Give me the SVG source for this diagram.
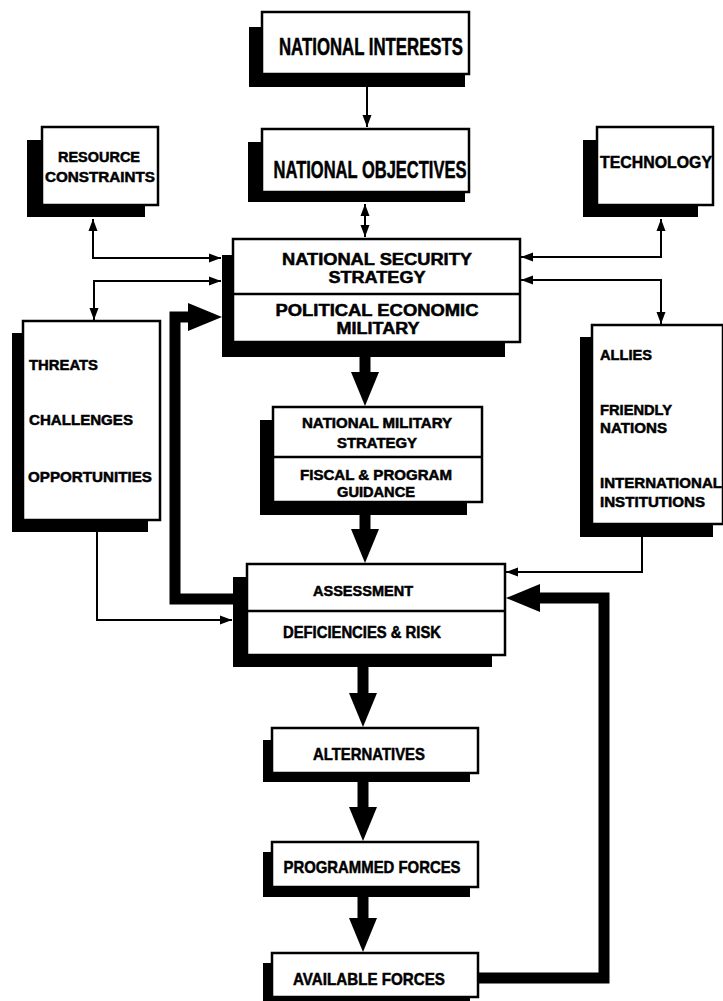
<svg xmlns="http://www.w3.org/2000/svg" width="723" height="1001" viewBox="0 0 723 1001">
<style>
.bg{fill:#fff}
.sh{fill:#000}
.bx{fill:#fff;stroke:#000;stroke-width:2.5}
.dv{stroke:#000;stroke-width:2.5}
.t{font-family:"Liberation Sans Narrow","Liberation Sans",Arial,sans-serif;font-weight:bold;fill:#000;stroke:#000;stroke-width:0.5}
.thin{fill:none;stroke:#000;stroke-width:2}
.thick{fill:none;stroke:#000;stroke-width:11}
</style>
<defs>
<marker id="ah" markerUnits="userSpaceOnUse" markerWidth="13" markerHeight="10" refX="12" refY="5" orient="auto-start-reverse"><path d="M0,0.5 L12,5 L0,9.5 z" fill="#000"/></marker>
<marker id="big" markerUnits="userSpaceOnUse" markerWidth="35" markerHeight="28" refX="0" refY="14" orient="auto"><path d="M0,0 L34,14 L0,28 z" fill="#000"/></marker>
</defs>
<rect class="bg" x="0" y="0" width="723" height="1001"/>

<g id="connectors">
<path class="thin" d="M367,87 V127" marker-end="url(#ah)"/>
<path class="thin" d="M365,204 V237" marker-start="url(#ah)" marker-end="url(#ah)"/>
<path class="thin" d="M93,219 V258 H221" marker-start="url(#ah)" marker-end="url(#ah)"/>
<path class="thin" d="M221,281 H94 V320" marker-start="url(#ah)" marker-end="url(#ah)"/>
<path class="thin" d="M661,219 V257 H521" marker-start="url(#ah)" marker-end="url(#ah)"/>
<path class="thin" d="M521,280 H661 V324" marker-start="url(#ah)" marker-end="url(#ah)"/>
<path class="thin" d="M97,532 V620 H232" marker-end="url(#ah)"/>
<path class="thin" d="M642,537 V572 H506" marker-end="url(#ah)"/>
<path class="thick" d="M365,357 V372" marker-end="url(#big)"/>
<path class="thick" d="M365,515 V529" marker-end="url(#big)"/>
<path class="thick" d="M363,667 V693" marker-end="url(#big)"/>
<path class="thick" d="M363,782 V807" marker-end="url(#big)"/>
<path class="thick" d="M363,897 V918" marker-end="url(#big)"/>
<path class="thick" d="M233,599 H175 V317 H188" marker-end="url(#big)"/>
<path class="thick" d="M478,978 H604 V598 H540" marker-end="url(#big)"/>
</g>

<g id="national-interests">
<rect class="sh" x="249" y="27" width="216" height="60"/>
<rect class="bx" x="262" y="12" width="207" height="62"/>
<text class="t" x="371" y="55" font-size="23" text-anchor="middle" textLength="184" lengthAdjust="spacingAndGlyphs">NATIONAL INTERESTS</text>
</g>

<g id="national-objectives">
<rect class="sh" x="248" y="142" width="217" height="60"/>
<rect class="bx" x="262" y="129" width="207" height="63"/>
<text class="t" x="370" y="178" font-size="23" text-anchor="middle" textLength="193" lengthAdjust="spacingAndGlyphs">NATIONAL OBJECTIVES</text>
</g>

<g id="resource-constraints">
<rect class="sh" x="27" y="140" width="118" height="77"/>
<rect class="bx" x="42" y="127" width="116" height="78"/>
<text class="t" x="99" y="162" font-size="14" text-anchor="middle" textLength="82" lengthAdjust="spacingAndGlyphs">RESOURCE</text>
<text class="t" x="100" y="182" font-size="14" text-anchor="middle" textLength="110" lengthAdjust="spacingAndGlyphs">CONSTRAINTS</text>
</g>

<g id="technology">
<rect class="sh" x="583" y="140" width="115" height="77"/>
<rect class="bx" x="597" y="127" width="116" height="78"/>
<text class="t" x="656" y="168" font-size="17" text-anchor="middle" textLength="112" lengthAdjust="spacingAndGlyphs">TECHNOLOGY</text>
</g>

<g id="national-security-strategy">
<rect class="sh" x="222" y="255" width="283" height="102"/>
<rect class="bx" x="233" y="239" width="287" height="103"/>
<line class="dv" x1="233" y1="294" x2="520" y2="294"/>
<text class="t" x="377" y="265" font-size="16" text-anchor="middle" textLength="190" lengthAdjust="spacingAndGlyphs">NATIONAL SECURITY</text>
<text class="t" x="377" y="283" font-size="16" text-anchor="middle" textLength="97" lengthAdjust="spacingAndGlyphs">STRATEGY</text>
<text class="t" x="377" y="316" font-size="16" text-anchor="middle" textLength="203" lengthAdjust="spacingAndGlyphs">POLITICAL ECONOMIC</text>
<text class="t" x="378" y="334" font-size="16" text-anchor="middle" textLength="83" lengthAdjust="spacingAndGlyphs">MILITARY</text>
</g>

<g id="threats">
<rect class="sh" x="12" y="333" width="136" height="199"/>
<rect class="bx" x="23" y="321" width="137" height="199"/>
<text class="t" x="29" y="370" font-size="15" textLength="69" lengthAdjust="spacingAndGlyphs">THREATS</text>
<text class="t" x="29" y="425" font-size="15" textLength="104" lengthAdjust="spacingAndGlyphs">CHALLENGES</text>
<text class="t" x="28" y="482" font-size="15" textLength="124" lengthAdjust="spacingAndGlyphs">OPPORTUNITIES</text>
</g>

<g id="allies">
<rect class="sh" x="580" y="337" width="133" height="200"/>
<rect class="bx" x="592" y="325" width="131" height="199"/>
<text class="t" x="600" y="360" font-size="15" textLength="52" lengthAdjust="spacingAndGlyphs">ALLIES</text>
<text class="t" x="600" y="415" font-size="15" textLength="72" lengthAdjust="spacingAndGlyphs">FRIENDLY</text>
<text class="t" x="600" y="433" font-size="15" textLength="67" lengthAdjust="spacingAndGlyphs">NATIONS</text>
<text class="t" x="600" y="488" font-size="15" textLength="122" lengthAdjust="spacingAndGlyphs">INTERNATIONAL</text>
<text class="t" x="600" y="507" font-size="15" textLength="105" lengthAdjust="spacingAndGlyphs">INSTITUTIONS</text>
</g>

<g id="national-military-strategy">
<rect class="sh" x="260" y="420" width="207" height="95"/>
<rect class="bx" x="273" y="407" width="209" height="95"/>
<line class="dv" x1="273" y1="457" x2="482" y2="457"/>
<text class="t" x="377" y="428" font-size="14" text-anchor="middle" textLength="150" lengthAdjust="spacingAndGlyphs">NATIONAL MILITARY</text>
<text class="t" x="377" y="448" font-size="14" text-anchor="middle" textLength="80" lengthAdjust="spacingAndGlyphs">STRATEGY</text>
<text class="t" x="376" y="480" font-size="14" text-anchor="middle" textLength="152" lengthAdjust="spacingAndGlyphs">FISCAL &amp; PROGRAM</text>
<text class="t" x="376" y="497" font-size="14" text-anchor="middle" textLength="78" lengthAdjust="spacingAndGlyphs">GUIDANCE</text>
</g>

<g id="assessment">
<rect class="sh" x="233" y="577" width="259" height="90"/>
<rect class="bx" x="247" y="564" width="258" height="91"/>
<line class="dv" x1="247" y1="611" x2="505" y2="611"/>
<text class="t" x="363" y="596" font-size="15" text-anchor="middle" textLength="100" lengthAdjust="spacingAndGlyphs">ASSESSMENT</text>
<text class="t" x="362" y="638" font-size="16" text-anchor="middle" textLength="158" lengthAdjust="spacingAndGlyphs">DEFICIENCIES &amp; RISK</text>
</g>

<g id="alternatives">
<rect class="sh" x="263" y="740" width="207" height="42"/>
<rect class="bx" x="272" y="728" width="206" height="45"/>
<text class="t" x="369" y="760" font-size="17" text-anchor="middle" textLength="112" lengthAdjust="spacingAndGlyphs">ALTERNATIVES</text>
</g>

<g id="programmed-forces">
<rect class="sh" x="263" y="852" width="207" height="45"/>
<rect class="bx" x="272" y="842" width="206" height="45"/>
<text class="t" x="372" y="873" font-size="17" text-anchor="middle" textLength="177" lengthAdjust="spacingAndGlyphs">PROGRAMMED FORCES</text>
</g>

<g id="available-forces">
<rect class="sh" x="263" y="963" width="207" height="38"/>
<rect class="bx" x="272" y="953" width="206" height="44"/>
<text class="t" x="369" y="985" font-size="17" text-anchor="middle" textLength="152" lengthAdjust="spacingAndGlyphs">AVAILABLE FORCES</text>
</g>
</svg>
